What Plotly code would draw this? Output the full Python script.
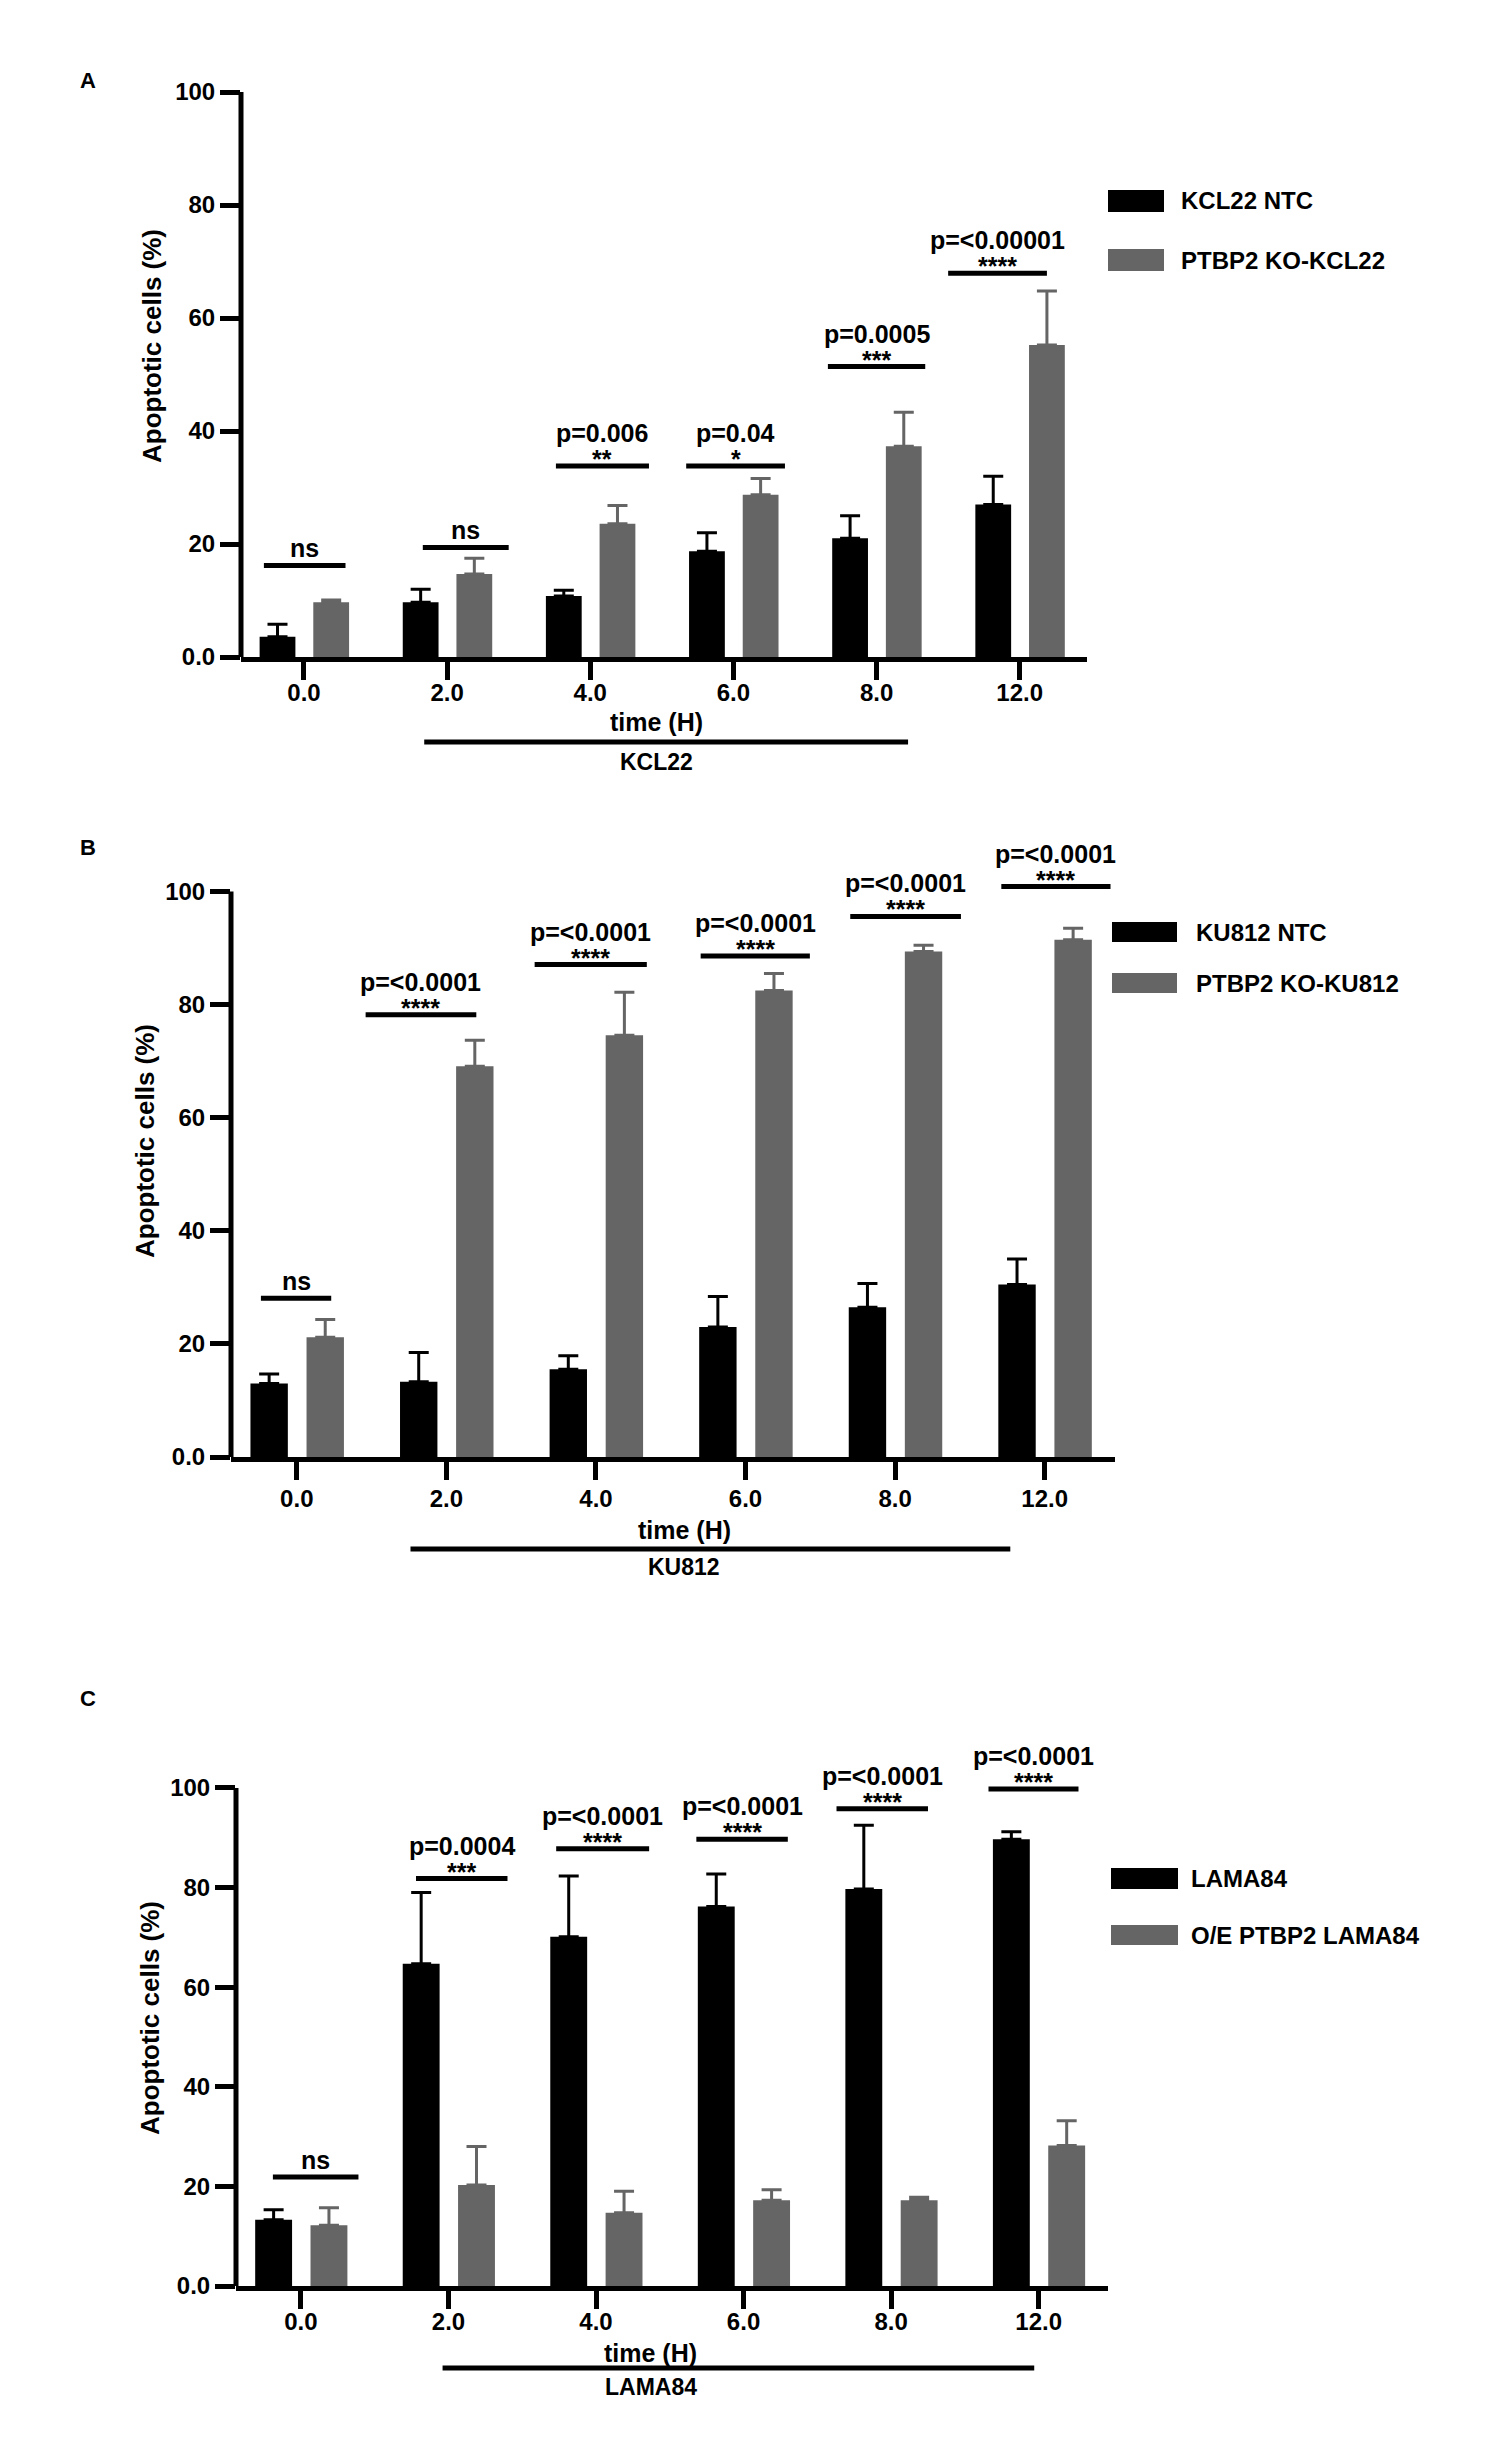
import plotly.graph_objects as go

# ---------------- data ----------------
time_labels = ["0.0", "2.0", "4.0", "6.0", "8.0", "12.0"]

# Panel A (KCL22)
kcl22_ntc = [3.6, 9.7, 10.8, 18.7, 21.0, 27.0]
kcl22_ntc_err = [2.2, 2.3, 1.0, 3.3, 4.0, 5.0]
kcl22_ko = [9.7, 14.7, 23.6, 28.7, 37.3, 55.2]
kcl22_ko_err = [0.4, 2.8, 3.2, 2.9, 6.0, 9.6]

# Panel B (KU812)
ku812_ntc = [13.0, 13.3, 15.5, 23.0, 26.5, 30.5]
ku812_ntc_err = [1.7, 5.2, 2.4, 5.4, 4.2, 4.5]
ku812_ko = [21.2, 69.1, 74.6, 82.5, 89.4, 91.5]
ku812_ko_err = [3.1, 4.6, 7.6, 3.0, 1.1, 2.0]

# Panel C (LAMA84)
lama84 = [13.3, 64.7, 70.1, 76.2, 79.7, 89.7]
lama84_err = [2.0, 14.3, 12.2, 6.5, 12.8, 1.5]
oe_lama84 = [12.2, 20.3, 14.7, 17.2, 17.2, 28.2]
oe_lama84_err = [3.5, 7.7, 4.3, 2.1, 0.6, 5.0]

# significance annotations
sig_a_text = ["ns", "ns", "p=0.006", "p=0.04", "p=0.0005", "p=<0.00001"]
sig_a_stars = ["", "", "**", "*", "***", "****"]
sig_a_y = [16.2, 19.4, 33.8, 33.8, 51.4, 67.9]
sig_b_text = ["ns", "p=<0.0001", "p=<0.0001", "p=<0.0001", "p=<0.0001", "p=<0.0001"]
sig_b_stars = ["", "****", "****", "****", "****", "****"]
sig_b_y = [28.1, 78.2, 87.1, 88.6, 95.6, 100.9]
sig_c_text = ["ns", "p=0.0004", "p=<0.0001", "p=<0.0001", "p=<0.0001", "p=<0.0001"]
sig_c_stars = ["", "***", "****", "****", "****", "****"]
sig_c_y = [21.9, 81.8, 87.8, 89.7, 95.8, 99.8]

# ---------------- layout constants ----------------
W, H = 1500, 2440
FONT = "Liberation Sans, Arial, Helvetica, sans-serif"
GRAY = "#656565"


def px(x):
    return x / W


def py(y):
    return 1 - y / H


x_idx = list(range(len(time_labels)))

panels = [
    dict(letter="A", letter_xy=(88, 80), xdom=(241, 1087), ydom=(92, 657), ymax=100,
         s1=kcl22_ntc, e1=kcl22_ntc_err, s2=kcl22_ko, e2=kcl22_ko_err,
         n1="KCL22 NTC", n2="PTBP2 KO-KCL22", group="KCL22", standoff=-8,
         sig_text=sig_a_text, sig_stars=sig_a_stars, sig_y=sig_a_y,
         sig_x0=[-0.28, -0.17, -0.24, -0.33, -0.34, -0.50],
         sig_x1=[0.29, 0.43, 0.41, 0.36, 0.34, 0.19],
         ytitle_xy=(152, 346), time_xy=(2.46, 722), brk=(0.84, 4.22, 742), grp_xy=(2.46, 762),
         leg_x=(1108, 1164), leg_y1=(190, 212), leg_y2=(249, 271), leg_tx=1179),
    dict(letter="B", letter_xy=(88, 847), xdom=(231, 1115), ydom=(869, 1457), ymax=104,
         s1=ku812_ntc, e1=ku812_ntc_err, s2=ku812_ko, e2=ku812_ko_err,
         n1="KU812 NTC", n2="PTBP2 KO-KU812", group="KU812", standoff=-2,
         sig_text=sig_b_text, sig_stars=sig_b_stars, sig_y=sig_b_y,
         sig_x0=[-0.24, -0.54, -0.41, -0.30, -0.30, -0.29],
         sig_x1=[0.23, 0.20, 0.34, 0.43, 0.44, 0.44],
         ytitle_xy=(145, 1141), time_xy=(2.59, 1530), brk=(0.76, 4.77, 1549), grp_xy=(2.59, 1567),
         leg_x=(1112, 1177), leg_y1=(922, 942), leg_y2=(973, 993), leg_tx=1194),
    dict(letter="C", letter_xy=(88, 1698), xdom=(236, 1108), ydom=(1768, 2286), ymax=104,
         s1=lama84, e1=lama84_err, s2=oe_lama84, e2=oe_lama84_err,
         n1="LAMA84", n2="O/E PTBP2 LAMA84", group="LAMA84", standoff=-8,
         sig_text=sig_c_text, sig_stars=sig_c_stars, sig_y=sig_c_y,
         sig_x0=[-0.19, -0.22, -0.27, -0.32, -0.37, -0.34],
         sig_x1=[0.39, 0.40, 0.36, 0.30, 0.25, 0.27],
         ytitle_xy=(150, 2018), time_xy=(2.37, 2353), brk=(0.96, 4.97, 2368), grp_xy=(2.37, 2387),
         leg_x=(1111, 1178), leg_y1=(1868, 1889), leg_y2=(1925, 1945), leg_tx=1189),
]

fig = go.Figure()
shapes = []
annotations = []
layout_axes = {}


def tfont(size, color="black"):
    return dict(family=FONT, size=size, color=color, weight="bold")


for k, p in enumerate(panels):
    sfx = "" if k == 0 else str(k + 1)
    xa, ya = "x" + sfx, "y" + sfx

    fig.add_trace(go.Bar(
        x=x_idx, y=p["s1"], width=0.25, offset=-0.31, name=p["n1"],
        marker=dict(color="black", line=dict(width=0)),
        error_y=dict(type="data", array=p["e1"], arrayminus=[0] * len(p["e1"]),
                     symmetric=False, color="black", thickness=3, width=10),
        xaxis=xa, yaxis=ya, showlegend=False))
    fig.add_trace(go.Bar(
        x=x_idx, y=p["s2"], width=0.25, offset=0.065, name=p["n2"],
        marker=dict(color=GRAY, line=dict(width=0)),
        error_y=dict(type="data", array=p["e2"], arrayminus=[0] * len(p["e2"]),
                     symmetric=False, color=GRAY, thickness=3, width=10),
        xaxis=xa, yaxis=ya, showlegend=False))

    layout_axes["xaxis" + sfx] = dict(
        domain=[px(p["xdom"][0]), px(p["xdom"][1])], anchor=ya, automargin=False,
        range=[-0.44, 5.47], tickvals=x_idx, ticktext=time_labels,
        showline=True, linewidth=5, linecolor="black",
        ticks="outside", ticklen=18, tickwidth=5, tickcolor="black",
        ticklabelstandoff=p["standoff"],
        showgrid=False, zeroline=False, tickfont=tfont(24), fixedrange=True)
    layout_axes["yaxis" + sfx] = dict(
        domain=[py(p["ydom"][1]), py(p["ydom"][0])], anchor=xa, automargin=False,
        range=[0, p["ymax"]], tickvals=[0, 20, 40, 60, 80, 100],
        ticktext=["0.0", "20", "40", "60", "80", "100"],
        showline=False, ticks="outside", ticklen=20, tickwidth=5, tickcolor="black",
        showgrid=False, zeroline=False, tickfont=tfont(24), fixedrange=True)

    # y axis line from 0 to 100
    shapes.append(dict(type="line", xref=xa + " domain", yref=ya, x0=0, x1=0, y0=0, y1=100,
                       line=dict(color="black", width=5)))

    # significance bars
    for i in x_idx:
        x0 = i + p["sig_x0"][i]
        x1 = i + p["sig_x1"][i]
        yl = p["sig_y"][i]
        xc = (x0 + x1) / 2
        shapes.append(dict(type="line", xref=xa, yref=ya, x0=x0, x1=x1, y0=yl, y1=yl,
                           line=dict(color="black", width=5)))
        if p["sig_stars"][i]:
            annotations.append(dict(x=xc, y=yl, xref=xa, yref=ya, text=p["sig_stars"][i],
                                    showarrow=False, yanchor="middle", yshift=7,
                                    font=tfont(25)))
            annotations.append(dict(x=xc, y=yl, xref=xa, yref=ya, text=p["sig_text"][i],
                                    showarrow=False, yanchor="middle", yshift=33,
                                    font=tfont(25)))
        else:
            annotations.append(dict(x=xc, y=yl, xref=xa, yref=ya, text=p["sig_text"][i],
                                    showarrow=False, yanchor="middle", yshift=17,
                                    font=tfont(25)))

    # panel letter
    annotations.append(dict(x=px(p["letter_xy"][0]), y=py(p["letter_xy"][1]), xref="paper",
                            yref="paper", text=p["letter"], showarrow=False,
                            xanchor="center", yanchor="middle", font=tfont(22)))
    # y title
    annotations.append(dict(x=px(p["ytitle_xy"][0]), y=py(p["ytitle_xy"][1]), xref="paper",
                            yref="paper", text="Apoptotic cells (%)", textangle=-90,
                            showarrow=False, xanchor="center", yanchor="middle",
                            font=tfont(26)))
    # x title
    annotations.append(dict(x=p["time_xy"][0], y=py(p["time_xy"][1]), xref=xa, yref="paper",
                            text="time (H)", showarrow=False, xanchor="center",
                            yanchor="middle", font=tfont(25)))
    # group bracket + label
    shapes.append(dict(type="line", xref=xa, yref="paper", x0=p["brk"][0], x1=p["brk"][1],
                       y0=py(p["brk"][2]), y1=py(p["brk"][2]),
                       line=dict(color="black", width=5)))
    annotations.append(dict(x=p["grp_xy"][0], y=py(p["grp_xy"][1]), xref=xa, yref="paper",
                            text=p["group"], showarrow=False, xanchor="center",
                            yanchor="middle", font=tfont(23)))

    # legend (manual)
    for (yy, col, name) in [(p["leg_y1"], "black", p["n1"]), (p["leg_y2"], GRAY, p["n2"])]:
        shapes.append(dict(type="rect", xref="paper", yref="paper",
                           x0=px(p["leg_x"][0]), x1=px(p["leg_x"][1]),
                           y0=py(yy[1]), y1=py(yy[0]), fillcolor=col,
                           line=dict(width=0)))
        annotations.append(dict(x=px(p["leg_tx"]), y=py((yy[0] + yy[1]) / 2),
                                xref="paper", yref="paper", text=name, showarrow=False,
                                xanchor="left", yanchor="middle", font=tfont(24)))

fig.update_layout(
    width=W, height=H, margin=dict(l=0, r=0, t=0, b=0, autoexpand=False),
    paper_bgcolor="white", plot_bgcolor="white",
    barmode="overlay", showlegend=False,
    font=dict(family=FONT, color="black"),
    shapes=shapes, annotations=annotations, **layout_axes)

fig.write_html("out.html")
